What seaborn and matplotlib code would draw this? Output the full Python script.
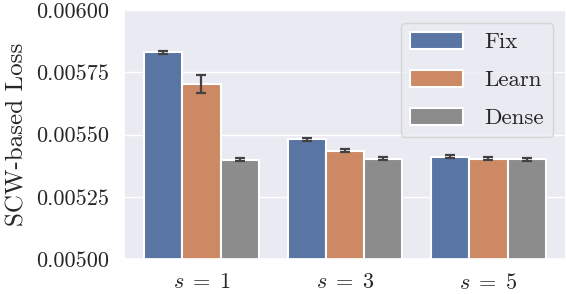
import numpy as np
import pandas as pd
import matplotlib
matplotlib.use("Agg")
import matplotlib.pyplot as plt
import seaborn as sns
from matplotlib.ticker import FormatStrFormatter

categories = [r"$s\;=\;1$", r"$s\;=\;3$", r"$s\;=\;5$"]
methods = ["Fix", "Learn", "Dense"]
loss = {
    "Fix":   [0.005830, 0.005481, 0.005410],
    "Learn": [0.005702, 0.005434, 0.005403],
    "Dense": [0.005399, 0.005402, 0.005400],
}
err = {
    "Fix":   [0.000006, 0.000006, 0.000006],
    "Learn": [0.000036, 0.000006, 0.000006],
    "Dense": [0.000006, 0.000006, 0.000006],
}

sns.set_theme(style="darkgrid")
plt.rcParams["font.family"] = "serif"
plt.rcParams["font.serif"] = ["cmr10", "DejaVu Serif"]
plt.rcParams["mathtext.fontset"] = "cm"
plt.rcParams["axes.formatter.use_mathtext"] = True

deep = sns.color_palette("deep")
palette = [deep[0], deep[1], deep[7]]

rows = []
for m in methods:
    for c, v in zip(categories, loss[m]):
        rows.append({"Setting": c, "Method": m, "Loss": v})
df = pd.DataFrame(rows)

fig = plt.figure(figsize=(5.66, 2.94), dpi=100)
ax = fig.add_axes([0.219, 0.119, 0.781, 0.847])
sns.barplot(data=df, x="Setting", y="Loss", hue="Method", order=categories,
            hue_order=methods, palette=palette, errorbar=None,
            edgecolor="white", linewidth=1.5, ax=ax)

# error bars at bar centres
for m, cont in zip(methods, ax.containers):
    xs = [p.get_x() + p.get_width() / 2 for p in cont.patches]
    ax.errorbar(xs, loss[m], yerr=err[m], fmt="none", ecolor="#424242",
                elinewidth=1.6, capsize=3.3, capthick=1.6, zorder=5)

ax.set_ylim(0.005, 0.006)
ax.set_yticks([0.005, 0.00525, 0.0055, 0.00575, 0.006])
ax.yaxis.set_major_formatter(FormatStrFormatter("%.5f"))
ax.tick_params(axis="y", labelsize=16, pad=5)
ax.tick_params(axis="x", labelsize=16, pad=4)
ax.set_xlabel("")
ax.set_ylabel("SCW-based Loss", fontsize=18, labelpad=5)
ax.legend(loc="upper right", fontsize=16.5, handlelength=2.3, handleheight=0.8,
          labelspacing=0.75, handletextpad=0.95, borderaxespad=0.55,
          edgecolor="#d0d0d0")

fig.savefig("out.png", dpi=100)
